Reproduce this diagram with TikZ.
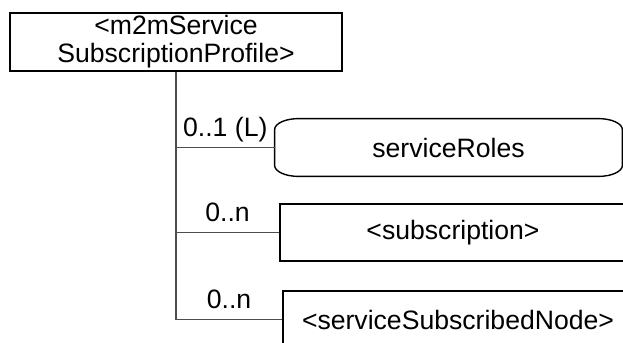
\documentclass[tikz,border=0pt]{standalone}
\usepackage{fontspec}
\setmainfont{Liberation Sans}
\usetikzlibrary{positioning}

\begin{document}
\begin{tikzpicture}[x=0.5pt, y=-0.5pt,
    every node/.style={font=\fontsize{13.3}{14}\selectfont},
    elem/.style={draw, line width=0.9pt, minimum height=28.5pt, inner sep=0pt},
    attr/.style={minimum height=28.5pt, inner sep=0pt},
    link/.style={draw=black!70, line width=0.55pt},
    card/.style={anchor=base, yshift=5.5pt, inner sep=0pt}]
  \useasboundingbox (0,0) rectangle (623,343);
  \clip (0,0) rectangle (623,343);
  % resource and its children
  \node[elem, minimum width=166pt, minimum height=29pt, align=center]
        (profile) at (176,42) {<m2mService\\SubscriptionProfile>};
  \node[attr, minimum width=173.5pt] (roles) at (448.5,147.5) {serviceRoles};
  \node[elem, minimum width=173pt] (subscription) at (453,232.5) {<subscription>};
  \node[elem, minimum width=175pt] (subnode) at (458,319.5) {<serviceSubscribedNode>};
  % attribute outline with flat rounded ends
  \draw[line width=0.7pt] ([xshift=12pt]roles.north west) -- ([xshift=-12pt]roles.north east)
    arc[start angle=90, end angle=0, x radius=12pt, y radius=5.5pt]
    -- ([yshift=5.5pt]roles.south east)
    arc[start angle=0, end angle=-90, x radius=12pt, y radius=5.5pt]
    -- ([xshift=12pt]roles.south west)
    arc[start angle=270, end angle=180, x radius=12pt, y radius=5.5pt]
    -- ([yshift=-5.5pt]roles.north west)
    arc[start angle=180, end angle=90, x radius=12pt, y radius=5.5pt];
  % tree lines with multiplicities
  \coordinate (trunk) at (profile.south |- subnode.west);
  \draw[link] (profile.south) -- (trunk);
  \foreach \n/\m in {roles/{0..1 (L)}, subscription/{0..n}, subnode/{0..n}}
    \draw[link] (profile.south |- \n.west) -- node[card] {\m} (\n.west);
\end{tikzpicture}
\end{document}
